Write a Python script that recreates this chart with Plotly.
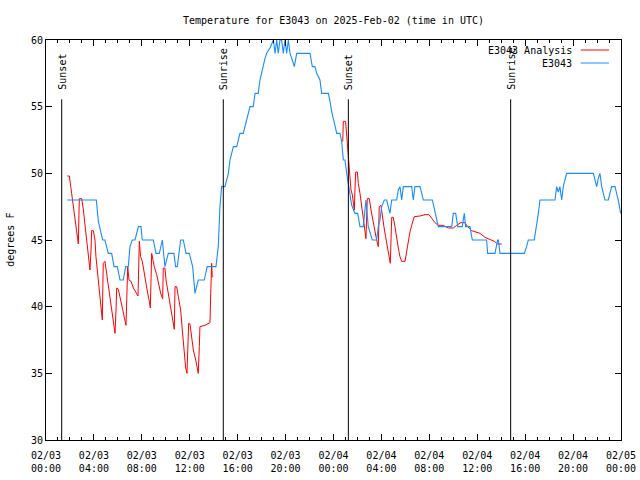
import plotly.graph_objects as go

# hours since 2025-02-03 00:00 UTC
obs_hours = [1.78,4.2,4.37,4.56,4.73,4.92,5.12,5.2,5.48,5.68,5.95,6.18,6.45,6.65,6.87,7.01,7.2,7.43,7.71,7.93,8.04,8.96,9.18,9.46,9.71,9.93,10.21,10.68,10.82,10.96,11.24,11.46,11.69,11.96,12.24,12.44,12.71,13.21,13.46,14.19,14.38,14.52,14.66,14.94,15.22,15.36,15.64,15.92,16.19,16.47,16.75,17.03,17.3,17.45,17.72,17.86,18.28,18.42,18.7,18.98,19.12,19.26,19.39,19.53,19.67,19.81,19.95,20.09,20.23,20.37,20.56,20.73,20.93,22.04,22.23,22.45,22.6,22.87,23.01,23.57,23.71,23.85,24.12,24.27,24.54,24.68,24.82,24.96,25.1,25.24,25.38,25.52,25.65,25.79,26.02,26.21,26.49,26.63,26.71,26.9,27.05,27.24,27.6,27.74,27.88,28.02,28.24,28.44,28.71,28.86,29.27,29.41,29.55,29.69,29.83,30.53,30.66,30.8,31.22,31.5,32.25,32.75,33.87,34.0,34.2,34.37,34.75,34.92,35.03,35.39,35.59,36.78,36.87,37.48,37.7,37.76,37.9,39.93,40.12,40.26,40.76,40.96,41.1,41.24,42.49,42.63,42.76,42.9,43.05,43.18,43.32,43.46,45.69,45.83,45.97,46.1,46.24,46.39,46.66,46.94,47.22,47.5,47.64,47.77,47.97]
obs_temp = [48,48,46.4,45.6,45,45,44.4,44,44,43,43,42,42,43,43,44.5,45,45,46,46,45,45,44,44,45,43,44,44,43,43,45,45,44,44,43,41,42,42,43,43,44.5,47.5,49,49,50,51,52,52,53,53,54,55,55,56,56,57,58.6,59,59.4,60,59,60,59,60,60,59,60,59,60,59,58.5,58,59,59,58,58,57.5,57,56,56,55.4,54.6,53.6,53,53,52.4,51,51,50,49,48.4,47.6,47.25,47,47,46,46,47.5,48,46,45.6,45,45,46,46.5,47.5,48,48,47,48,48,48.75,49,48,49,49,48,49,49,48,48,46,46,47,47,46,46,47,46,46,45,45,44,44,45,45,44,44,44.5,45,45,46,47,48,48,49,48.6,49,48,49,49.5,50,50,49.5,49,49.6,50,49,48,48,49,49,48.5,48,47]

ana_hours = [1.78,1.95,2.14,2.28,2.42,2.56,2.7,2.78,2.98,3.12,3.26,3.39,3.53,3.67,3.76,3.81,3.95,4.09,4.17,4.31,4.45,4.59,4.7,4.78,4.92,5.06,5.2,5.34,5.48,5.62,5.76,5.84,5.9,6.04,6.18,6.32,6.45,6.59,6.68,6.82,6.93,7.1,7.29,7.49,7.68,7.79,7.9,8.04,8.15,8.32,8.49,8.63,8.71,8.82,8.9,9.04,9.24,9.38,9.55,9.66,9.74,9.79,9.93,10.02,10.21,10.41,10.57,10.71,10.77,10.91,11.05,11.24,11.38,11.52,11.66,11.77,11.85,11.91,12.02,12.16,12.3,12.5,12.63,12.71,12.8,12.85,13.27,13.69,13.75,13.83,13.88,13.96,
             19.0,
             24.77,24.82,25.01,25.1,25.24,25.32,25.38,25.46,25.57,25.65,25.74,25.79,25.85,25.99,26.07,26.21,26.35,26.49,26.63,26.71,26.82,26.99,27.13,27.32,27.46,27.6,27.74,27.82,27.96,28.07,28.21,28.35,28.49,28.63,28.74,28.86,28.99,29.13,29.27,29.41,29.55,29.69,29.97,30.11,30.24,30.38,30.53,30.74,31.22,31.64,31.97,32.19,32.47,32.75,33.16,33.58,34.0,34.28,34.64,34.97,35.2,35.53,35.81,36.23,36.64,37.06,37.42,37.7,38.04]
ana_temp = [49.8,49.8,48.5,47.5,46.5,45.5,44.7,48.1,48.1,47.25,46,45,44,42.75,44.25,45.7,45.7,45,43.75,42.4,40.9,40,39,43.25,43.4,42.5,41.6,40.9,40,39,38,39.6,41.4,41.3,40.75,40.1,39.5,39,38.6,43,42,41.9,41.4,41.1,40.8,44.9,43.75,43.4,42.75,42,41,40.4,39.9,44,43.5,43,42.4,41.75,41.1,40.75,40.6,42.9,42.9,42,41,40,39.25,38.3,41.5,41.5,40.75,39.75,38.25,36.75,35.4,35,37,38.75,38.7,37.75,36.75,36,35.4,35,37,38.5,38.6,38.8,41,43.25,42.25,42.25,
            None,
            52.4,53.9,53.9,52.75,51.25,50.6,49.5,48.75,48.4,47.75,47.25,48.75,50.1,50.1,49.25,48.5,47.5,46.6,45.75,45.1,48.1,48.1,47.25,46.25,45.6,45,44.5,47.5,47.6,46.75,46,45.25,44.5,43.75,43.25,46.7,46.7,46,45.1,44.4,43.75,43.4,43.4,44.25,45,45.6,46.1,46.75,46.8,46.9,46.9,46.6,46.3,46.1,46.1,45.9,45.9,46.1,46.3,46.3,46,45.7,45.6,45.5,45.2,45.05,44.9,44.7,44.7]

sun_hours = [1.31, 14.8, 25.24, 38.79]
sun_labels = ["Sunset", "Sunrise", "Sunset", "Sunrise"]

tick_hours = [0, 4, 8, 12, 16, 20, 24, 28, 32, 36, 40, 44, 48]
tick_labels = ["02/03<br>00:00", "02/03<br>04:00", "02/03<br>08:00", "02/03<br>12:00",
               "02/03<br>16:00", "02/03<br>20:00", "02/04<br>00:00", "02/04<br>04:00",
               "02/04<br>08:00", "02/04<br>12:00", "02/04<br>16:00", "02/04<br>20:00",
               "02/05<br>00:00"]
y_ticks = [30, 35, 40, 45, 50, 55, 60]

series_names = ["E3043 Analysis", "E3043"]
series_colors = ["#ff0000", "#1a8cff"]

FONT = "DejaVu Sans Mono"

fig = go.Figure()
fig.add_trace(go.Scatter(x=ana_hours, y=ana_temp, mode="lines", name=series_names[0],
                         line=dict(color=series_colors[0], width=1), connectgaps=False))
fig.add_trace(go.Scatter(x=obs_hours, y=obs_temp, mode="lines", name=series_names[1],
                         line=dict(color=series_colors[1], width=1.1)))

for h, lab in zip(sun_hours, sun_labels):
    fig.add_shape(type="line", xref="x", yref="y", x0=h, x1=h, y0=30, y1=55.55,
                  line=dict(color="black", width=1))
    fig.add_annotation(x=h, y=56.1, xref="x", yref="y", text=lab, textangle=-90,
                       showarrow=False, xanchor="center", yanchor="bottom",
                       font=dict(family=FONT, size=10, color="black"))

# legend (gnuplot style: text then sample)
leg_y = [0.975, 0.9425]
for i, name in enumerate(series_names):
    fig.add_annotation(x=0.918, y=leg_y[i], xref="paper", yref="paper", text=name,
                       showarrow=False, xanchor="right", yanchor="middle",
                       font=dict(family=FONT, size=10, color="black"))
    fig.add_shape(type="line", xref="paper", yref="paper", x0=0.930, x1=0.979,
                  y0=leg_y[i], y1=leg_y[i], line=dict(color=series_colors[i], width=1))

fig.add_annotation(x=-0.063, y=0.5, xref="paper", yref="paper", text="degrees F",
                   textangle=-90, showarrow=False, xanchor="center", yanchor="middle",
                   font=dict(family=FONT, size=10, color="black"))

fig.update_layout(
    width=640, height=480, autosize=False,
    margin=dict(l=46, r=19, t=40, b=40, pad=0),
    paper_bgcolor="white", plot_bgcolor="white",
    showlegend=False,
    title=dict(text="Temperature for E3043 on 2025-Feb-02 (time in UTC)",
               x=0.5, xref="paper", xanchor="center", y=1 - 20 / 480, yref="container",
               yanchor="middle", font=dict(family=FONT, size=10, color="black")),
    font=dict(family=FONT, size=10, color="black"),
)
fig.update_xaxes(range=[0, 48], tickvals=tick_hours, ticktext=tick_labels,
                 automargin=False,
                 showgrid=False, zeroline=False, showline=True, linecolor="black",
                 linewidth=1, mirror="allticks", ticks="inside", ticklen=6,
                 tickcolor="black", tickwidth=1, ticklabelstandoff=6,
                 minor=dict(ticks="inside", ticklen=3, dtick=1, tick0=0,
                            tickcolor="black", showgrid=False),
                 tickfont=dict(family=FONT, size=10, color="black"))
fig.update_yaxes(range=[30, 60], tickvals=y_ticks, showgrid=False, zeroline=False,
                 automargin=False,
                 showline=True, linecolor="black", linewidth=1, mirror="allticks",
                 ticks="inside", ticklen=6, tickcolor="black", tickwidth=1,
                 tickfont=dict(family=FONT, size=10, color="black"))

post = ("document.documentElement.style.margin='0';document.body.style.margin='0';"
        "document.body.style.padding='0';document.documentElement.style.overflow='hidden';"
        "document.body.style.overflow='hidden';")
fig.write_html("out.html", post_script=post, config={"displayModeBar": False})
